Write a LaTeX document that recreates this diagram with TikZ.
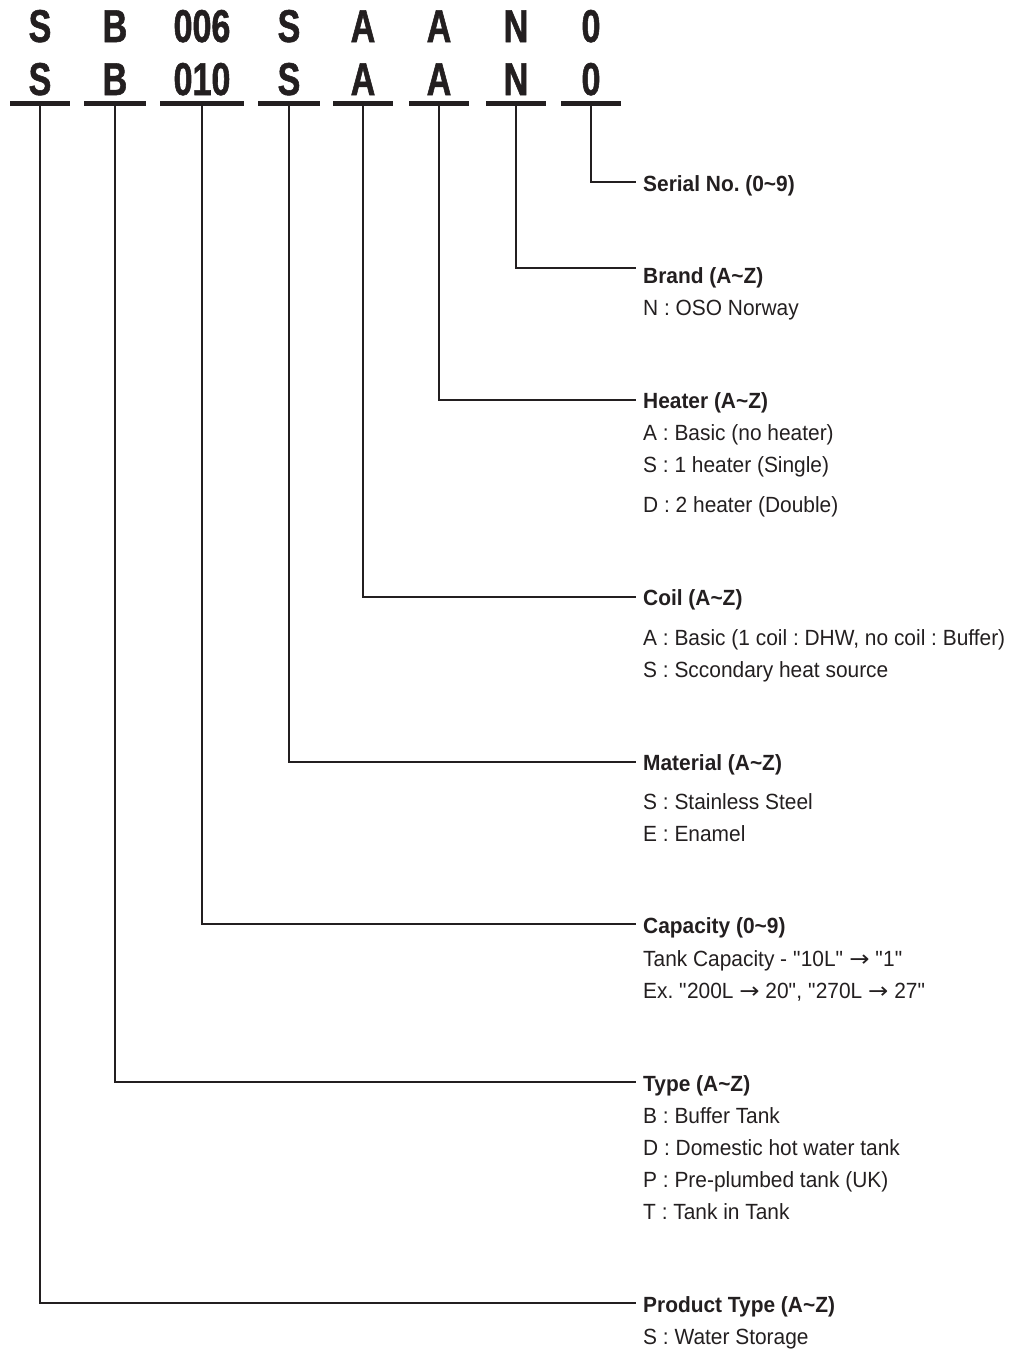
\documentclass[tikz,border=0pt]{standalone}
\usepackage{fontspec}
\setmainfont[FakeStretch=0.95]{Liberation Sans}
\newfontfamily\codefont[FakeStretch=0.74,FakeBold=1.2]{Liberation Sans}
\newfontfamily\arrowfont[FakeStretch=1.1]{DejaVu Sans}
\newcommand\toarrow{{\arrowfont →}}
\usepackage{tikz}
\usetikzlibrary{positioning}
\definecolor{ink}{HTML}{231F20}
\frenchspacing

\begin{document}
\begin{tikzpicture}[
    x=1pt, y=-1pt,
    codechar/.style={
        font=\codefont\bfseries\fontsize{46}{46}\selectfont,
        text=ink,
        inner sep=0pt,
        anchor=base
    },
    bar/.style={
        fill=ink,
        inner sep=0pt,
        minimum height=5pt
    },
    lead/.style={
        draw=ink,
        line width=2pt
    },
    title/.style={
        font=\bfseries\fontsize{22}{22}\selectfont,
        text=ink,
        inner sep=0pt,
        anchor=base west
    },
    desc/.style={
        font=\fontsize{22}{22}\selectfont,
        text=ink,
        inner sep=0pt,
        anchor=base west
    }
]

\useasboundingbox (0,0) rectangle (1013,1350);

% Top: the two model codes and their underlines
\foreach \x/\w/\old/\new [count=\i] in {40/60/S/S, 115/62/B/B, 202/84/006/010, 289/62/S/S,
                                         363/60/A/A, 439/60/A/A, 516/60/N/N, 591/60/0/0}{
    \node[codechar] (old\i) at (\x,42) {\old};
    \node[codechar] (code\i) at (\x,95) {\new};
    \node[bar, minimum width=\w pt] (bar\i) at (\x,103.5) {};
}

% Line ends
\coordinate (serialend) at (636,182);
\coordinate (brandend) at (636,268);
\coordinate (heaterend) at (636,400);
\coordinate (coilend) at (636,597);
\coordinate (materialend) at (636,762);
\coordinate (capacityend) at (636,924);
\coordinate (typeend) at (636,1082);
\coordinate (productend) at (636,1303);

% Serial & brand
\node[title] (serial) at (643,191) {Serial No. (0\textasciitilde9)};
\node[title] (brand) at (643,283) {Brand (A\textasciitilde Z)};
\node[desc] (brandN) at (643,315) {N : OSO Norway};

% Heater
\node[title] (heater) at (643,408) {Heater (A\textasciitilde Z)};
\node[desc] (heaterA) at (643,440) {A : Basic (no heater)};
\node[desc] (heaterS) at (643,472) {S : 1 heater (Single)};
\node[desc] (heaterD) at (643,512) {D : 2 heater (Double)};

% Coil
\node[title] (coil) at (643,605) {Coil (A\textasciitilde Z)};
\node[desc] (coilA) at (643,645) {A : Basic (1 coil : DHW, no coil : Buffer)};
\node[desc] (coilS) at (643,677) {S : Sccondary heat source};

% Material
\node[title] (material) at (643,770) {Material (A\textasciitilde Z)};
\node[desc] (materialS) at (643,809) {S : Stainless Steel};
\node[desc] (materialE) at (643,841) {E : Enamel};

% Capacity
\node[title] (capacity) at (643,933) {Capacity (0\textasciitilde9)};
\node[desc] (capacity1) at (643,966) {Tank Capacity - \textquotedbl10L\textquotedbl{} \toarrow{} \textquotedbl1\textquotedbl};
\node[desc] (capacity2) at (643,998) {Ex. \textquotedbl200L \toarrow{} 20\textquotedbl, \textquotedbl270L \toarrow{} 27\textquotedbl};

% Type
\node[title] (type) at (643,1091) {Type (A\textasciitilde Z)};
\node[desc] (typeB) at (643,1123) {B : Buffer Tank};
\node[desc] (typeD) at (643,1155) {D : Domestic hot water tank};
\node[desc] (typeP) at (643,1187) {P : Pre-plumbed tank (UK)};
\node[desc] (typeT) at (643,1219) {T : Tank in Tank};

% Product type
\node[title] (product) at (643,1312) {Product Type (A\textasciitilde Z)};
\node[desc] (productS) at (643,1344) {S : Water Storage};

% Leaders
\draw[lead] (bar8.south) |- (serialend);
\draw[lead] (bar7.south) |- (brandend);
\draw[lead] (bar6.south) |- (heaterend);
\draw[lead] (bar5.south) |- (coilend);
\draw[lead] (bar4.south) |- (materialend);
\draw[lead] (bar3.south) |- (capacityend);
\draw[lead] (bar2.south) |- (typeend);
\draw[lead] (bar1.south) |- (productend);

\end{tikzpicture}
\end{document}
